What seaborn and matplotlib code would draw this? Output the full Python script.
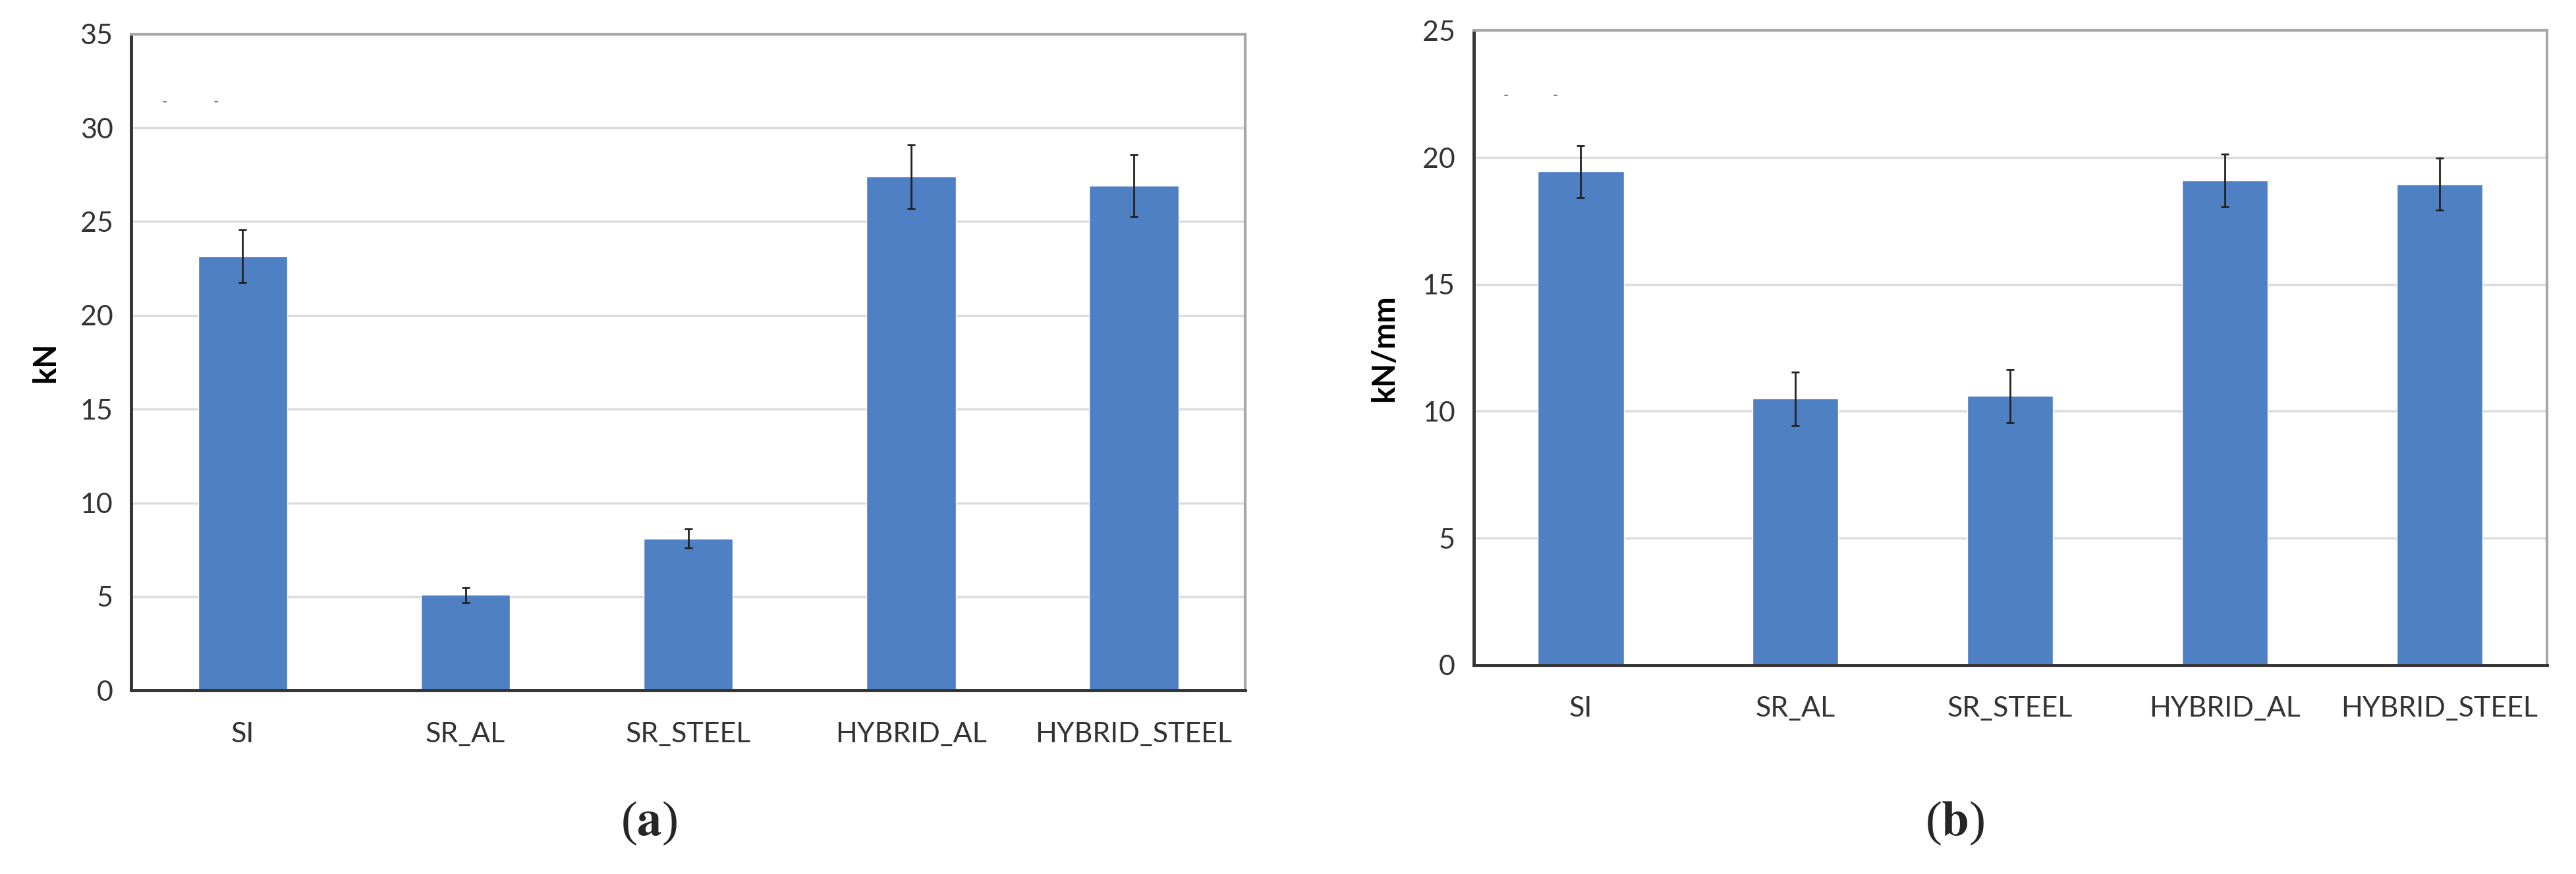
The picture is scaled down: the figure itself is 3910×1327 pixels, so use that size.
import numpy as np
import pandas as pd
import matplotlib
matplotlib.use("Agg")
import matplotlib.pyplot as plt
import seaborn as sns

categories = ["SI", "SR_AL", "SR_STEEL", "HYBRID_AL", "HYBRID_STEEL"]

# (a) load in kN
force_kn = [23.15, 5.1, 8.1, 27.4, 26.9]
force_err = [1.4, 0.4, 0.5, 1.7, 1.65]

# (b) stiffness in kN/mm
stiff_knmm = [19.45, 10.5, 10.6, 19.1, 18.95]
stiff_err = [1.03, 1.05, 1.05, 1.04, 1.03]

sns.set_style("white")
plt.rcParams["font.family"] = ["Lato", "DejaVu Sans"]
plt.rcParams["mathtext.fontset"] = "stix"

bar_color = "#5080C4"
dark = "#333333"
grid_col = "#dcdcdc"

fig = plt.figure(figsize=(39.1, 13.27), dpi=100)
ax_a = fig.add_axes([0.051, 0.210, 0.4324, 0.751])
ax_b = fig.add_axes([0.572, 0.239, 0.4167, 0.726])


def draw_panel(ax, values, errs, ylabel, ymax, dash_y, lpad):
    df = pd.DataFrame({"cat": categories, "val": values})
    sns.barplot(data=df, x="cat", y="val", color=bar_color, width=0.4,
                saturation=1, errorbar=None, ax=ax, zorder=2)
    ax.errorbar(np.arange(len(categories)), values, yerr=errs, fmt="none",
                ecolor="#222222", elinewidth=2, capsize=4, capthick=2, zorder=3)
    ax.set_xlim(-0.5, len(categories) - 0.5)
    ax.set_ylim(0, ymax)
    ax.set_yticks(np.arange(0, ymax + 1, 5))
    ax.yaxis.grid(True, color=grid_col, linewidth=2.5, zorder=0)
    ax.set_axisbelow(True)
    ax.set_xlabel("")
    ax.set_ylabel(ylabel, fontsize=34, fontweight="bold", color="black",
                  labelpad=lpad)
    # category ticks without marks, boundary ticks as minor marks
    ax.tick_params(axis="x", which="major", length=0, pad=34,
                   labelsize=31, labelcolor=dark)
    ax.set_xticks(np.arange(-0.5, len(categories)), minor=True)
    ax.tick_params(axis="x", which="minor", length=14, width=3,
                   color=dark, direction="out")
    ax.tick_params(axis="y", length=12, width=3, color=dark,
                   labelsize=31, labelcolor=dark, pad=8)
    for side in ["left", "bottom"]:
        ax.spines[side].set_color(dark)
        ax.spines[side].set_linewidth(3.5)
    for side in ["top", "right"]:
        ax.spines[side].set_color("#a8a8a8")
        ax.spines[side].set_linewidth(3)
    for xd in [-0.35, -0.12]:
        ax.text(xd, dash_y, "-", fontsize=16, color="#444444",
                ha="center", va="center")


draw_panel(ax_a, force_kn, force_err, "kN", 35, 31.4, 22)
draw_panel(ax_b, stiff_knmm, stiff_err, "kN/mm", 25, 22.45, 26)

fig.text(0.252, 0.058, r"($\mathbf{a}$)", fontsize=54, ha="center",
         va="center", family=["Liberation Serif", "DejaVu Serif"])
fig.text(0.759, 0.058, r"($\mathbf{b}$)", fontsize=54, ha="center",
         va="center", family=["Liberation Serif", "DejaVu Serif"])

fig.savefig("out.png", dpi=100, facecolor="white")
